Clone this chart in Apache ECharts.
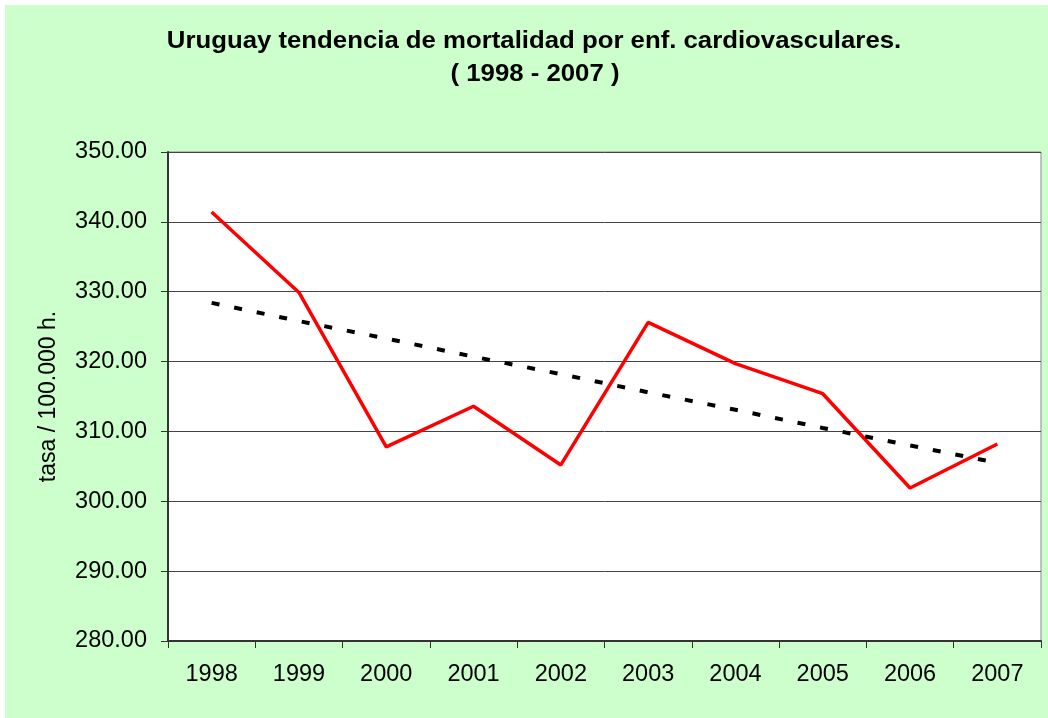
<!DOCTYPE html>
<html>
<head>
<meta charset="utf-8">
<script src="https://cdn.jsdelivr.net/npm/echarts@6/dist/echarts.min.js"></script>
<style>
  html, body { margin: 0; padding: 0; background: #fff; }
  #main { width: 1048px; height: 718px; }
</style>
</head>
<body>
<div id="main"></div>
<script>
// values
const years = ['1998', '1999', '2000', '2001', '2002', '2003', '2004', '2005', '2006', '2007'];
const tasa = [341.4, 329.9, 307.8, 313.6, 305.2, 325.6, 319.7, 315.4, 301.9, 308.2];
const tendencia = [328.4, 325.8, 323.3, 320.7, 318.2, 315.6, 313.1, 310.5, 308.0, 305.5];
const titulo = 'Uruguay tendencia de mortalidad por enf. cardiovasculares.';
const subtitulo = '( 1998 - 2007 )';

const font = 'Liberation Sans, Arial, sans-serif';

const chart = echarts.init(document.getElementById('main'));
chart.setOption({
  backgroundColor: '#fff',
  animation: false,
  graphic: [
    {
      type: 'rect',
      z: -10,
      silent: true,
      shape: { x: 5, y: 5, width: 1043, height: 713 },
      style: { fill: '#ccffcc' }
    },
    {
      type: 'text',
      x: 534, y: 42, scaleX: 1.12,
      style: {
        text: titulo, fill: '#000', font: 'bold 23px ' + font,
        textAlign: 'center', textVerticalAlign: 'middle'
      }
    },
    {
      type: 'text',
      x: 535, y: 75, scaleX: 1.12,
      style: {
        text: subtitulo, fill: '#000', font: 'bold 23px ' + font,
        textAlign: 'center', textVerticalAlign: 'middle'
      }
    }
  ],
  grid: {
    left: 168,
    right: 7,
    top: 152,
    bottom: 77,
    show: true,
    backgroundColor: '#fff',
    borderColor: '#888',
    borderWidth: 1
  },
  xAxis: {
    type: 'category',
    data: years,
    boundaryGap: true,
    axisLine: { lineStyle: { color: '#333', width: 2 } },
    axisTick: { show: true, length: 7, lineStyle: { color: '#333' } },
    axisLabel: { fontFamily: font, fontSize: 23.5, color: '#000', margin: 22 },
    splitLine: { show: false }
  },
  yAxis: {
    type: 'value',
    min: 280,
    max: 350,
    interval: 10,
    name: 'tasa / 100.000 h.',
    nameLocation: 'middle',
    nameGap: 108,
    nameTextStyle: { fontFamily: font, fontSize: 23, color: '#000' },
    axisLine: { show: true, lineStyle: { color: '#333', width: 2 } },
    axisTick: { show: true, length: 7, lineStyle: { color: '#333' } },
    axisLabel: {
      fontFamily: font, fontSize: 23.5, color: '#000', margin: 21,
      formatter: v => v.toFixed(2)
    },
    splitLine: { show: true, lineStyle: { color: '#444', width: 1 } }
  },
  series: [
    {
      name: 'tasa',
      type: 'line',
      data: tasa,
      symbol: 'none',
      lineStyle: { color: '#ff0000', width: 3.5 },
      z: 3
    },
    {
      name: 'tendencia',
      type: 'line',
      data: tendencia,
      symbol: 'none',
      lineStyle: { color: '#000', width: 4, type: [8, 15] },
      z: 4
    }
  ]
});
</script>
</body>
</html>
